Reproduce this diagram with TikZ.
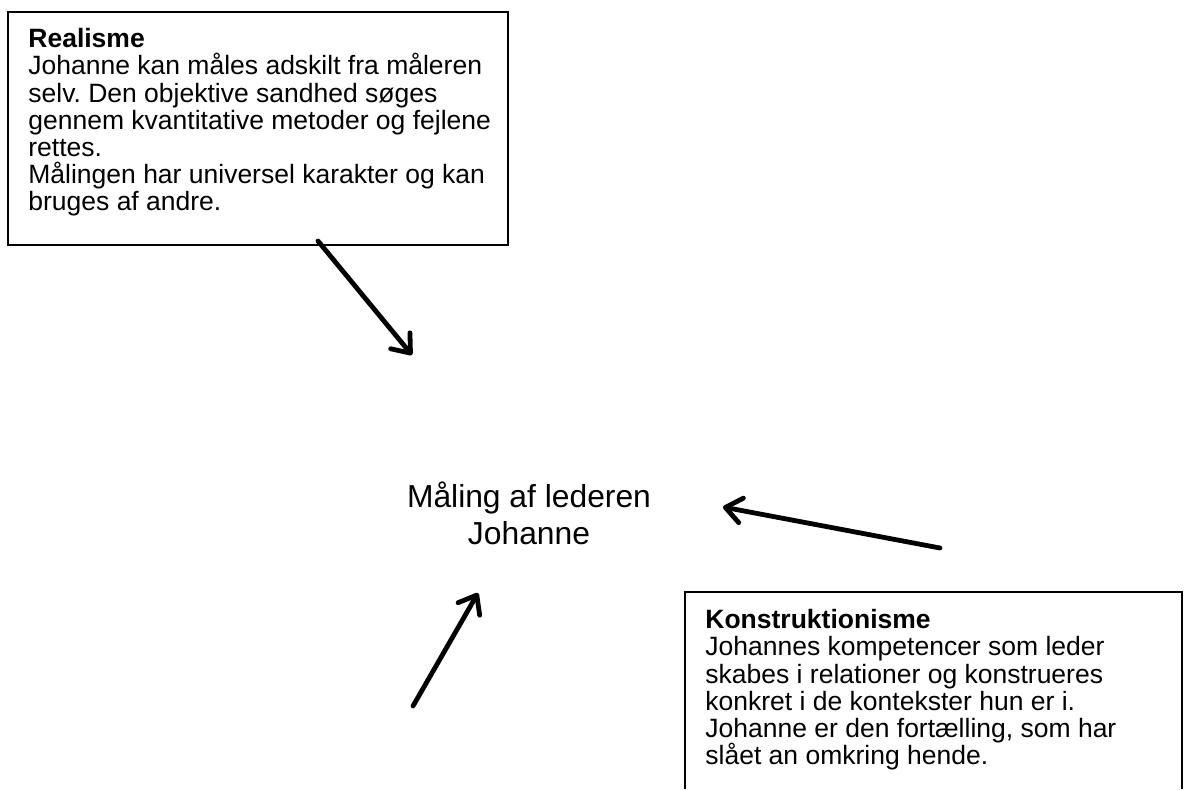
\documentclass[tikz,border=0pt]{standalone}
\usepackage{fontspec}
\setmainfont{Liberation Sans}
\frenchspacing
\usepackage{tikz}
\usetikzlibrary{arrows.meta}
\tikzstyle{frame}=[draw, line width=0.75pt]
\tikzstyle{boxtext}=[anchor=north west, inner sep=0pt, align=left, font=\fontsize{13.25pt}{13.6pt}\selectfont]
\tikzstyle{centertext}=[inner sep=0pt, align=center, font=\fontsize{15.9pt}{18.5pt}\selectfont]
\tikzstyle{pointer}=[line width=2.4pt, line cap=round, -{Straight Barb[length=8pt, width=12.5pt, line cap=round, line join=round]}]

\begin{document}
\begin{tikzpicture}[x=0.5pt, y=-0.5pt]
        \useasboundingbox (0, 0) rectangle (1184, 789);
        % frames
        \draw[frame] (8, 12) rectangle (508, 245);
        \draw[frame] (685, 789) -- (685, 592) -- (1182, 592) -- (1182, 789);
        \node[boxtext] (realisme) at (28, 28) {\textbf{Realisme}\\
            Johanne kan måles adskilt fra måleren\\
            selv. Den objektive sandhed søges\\
            gennem kvantitative metoder og fejlene\\
            rettes.\\
            Målingen har universel karakter og kan\\
            bruges af andre.};
        \node[boxtext] (konstruktion) at (705, 609) {\textbf{Konstruktionisme}\\
            Johannes kompetencer som leder\\
            skabes i relationer og konstrueres\\
            konkret i de kontekster hun er i.\\
            Johanne er den fortælling, som har\\
            slået an omkring hende.};
        \node[centertext] (maaling) at (529, 513) {Måling af lederen\\Johanne};
        % arrows
        \coordinate (r1) at (318, 241);
        \coordinate (r2) at (412, 355);
        \coordinate (u1) at (413, 706);
        \coordinate (u2) at (478, 593);
        \coordinate (k1) at (940, 548);
        \coordinate (k2) at (723, 507);
        \draw[pointer] (r1) -- (r2);
        \draw[pointer] (u1) -- (u2);
        \draw[pointer] (k1) -- (k2);
    \end{tikzpicture}
\end{document}
